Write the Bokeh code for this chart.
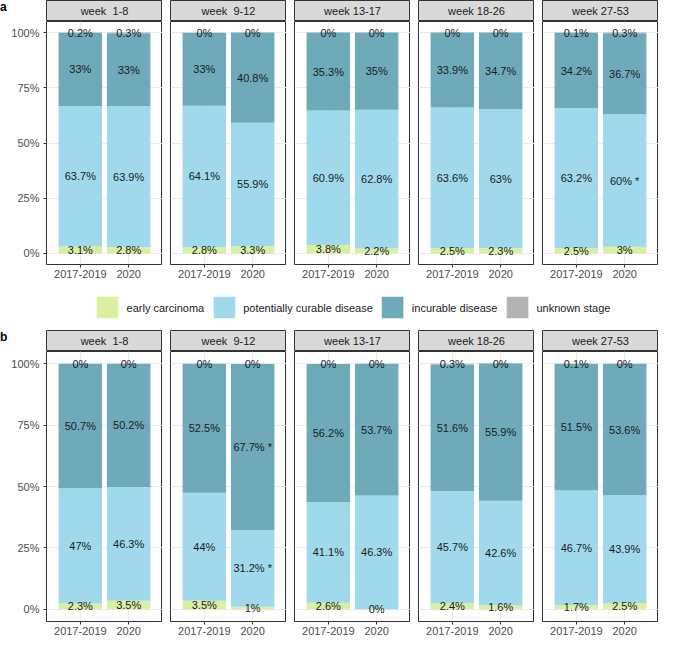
from bokeh.plotting import figure
from bokeh.layouts import row, column
from bokeh.models import (ColumnDataSource, FactorRange, Range1d, FixedTicker,
                          PrintfTickFormatter, Label, Legend, LegendItem, Div)
from bokeh.embed import file_html
from bokeh.resources import INLINE
from bokeh.core.properties import value

# ---------------- data ----------------
periods = ["2017-2019", "2020"]
weeks = ["week\u00a0 1-8", "week\u00a0 9-12", "week 13-17", "week 18-26", "week 27-53"]
categories = ["early carcinoma", "potentially curable disease", "incurable disease", "unknown stage"]
colors = ["#d9f0a3", "#a0d9eb", "#6eaaba", "#b3b3b3"]

# panel a: [week][period]
a_early = [[3.1, 2.8], [2.8, 3.3], [3.8, 2.2], [2.5, 2.3], [2.5, 3.0]]
a_curable = [[63.7, 63.9], [64.1, 55.9], [60.9, 62.8], [63.6, 63.0], [63.2, 60.0]]
a_incurable = [[33.0, 33.0], [33.0, 40.8], [35.3, 35.0], [33.9, 34.7], [34.2, 36.7]]
a_unknown = [[0.2, 0.3], [0.0, 0.0], [0.0, 0.0], [0.0, 0.0], [0.1, 0.3]]
# significance marks: (week index, period index, category index)
a_stars = [(4, 1, 1)]

# panel b
b_early = [[2.3, 3.5], [3.5, 1.0], [2.6, 0.0], [2.4, 1.6], [1.7, 2.5]]
b_curable = [[47.0, 46.3], [44.0, 31.2], [41.1, 46.3], [45.7, 42.6], [46.7, 43.9]]
b_incurable = [[50.7, 50.2], [52.5, 67.7], [56.2, 53.7], [51.6, 55.9], [51.5, 53.6]]
b_unknown = [[0.0, 0.0], [0.0, 0.0], [0.0, 0.0], [0.3, 0.0], [0.1, 0.0]]
b_stars = [(1, 1, 1), (1, 1, 2)]

y_ticks = [0, 25, 50, 75, 100]

# ---------------- style ----------------
FONT = "Liberation Sans"
FRAME_W = 116
GAP = 8
LEFT = 46
TAG_W = 12
STRIP_H = 21
KEYS = ["early", "curable", "incurable", "unknown"]


def strip_fig(title, col):
    s = figure(frame_width=FRAME_W, frame_height=STRIP_H, x_range=(0, 1), y_range=(0, 1),
               toolbar_location=None, output_backend="svg",
               x_axis_location=None, y_axis_location=None,
               min_border_left=(LEFT - TAG_W) if col == 0 else GAP, min_border_right=0,
               min_border_top=0, min_border_bottom=0)
    s.grid.visible = False
    s.background_fill_color = "#d9d9d9"
    s.outline_line_color = "#333333"
    s.outline_line_width = 1
    s.add_layout(Label(x=0.5, y=0.5, text=title, text_align="center", text_baseline="middle",
                       text_font=FONT, text_font_size="11px", text_font_style="normal",
                       text_color="#1a1a1a"))
    return s


def panel_fig(col, h, early, curable, incurable, unknown, stars):
    p = figure(frame_width=FRAME_W, frame_height=h,
               x_range=FactorRange(factors=periods, range_padding=0.2, range_padding_units="absolute"),
               y_range=Range1d(-5, 105), toolbar_location=None, output_backend="svg",
               y_axis_location="left" if col == 0 else None,
               min_border_left=LEFT if col == 0 else GAP, min_border_right=0,
               min_border_top=0, min_border_bottom=20)
    p.outline_line_color = "#333333"
    p.outline_line_width = 1
    p.background_fill_color = "white"

    vals = [early[col], curable[col], incurable[col], unknown[col]]
    data = {"period": periods}
    for k, v in zip(KEYS, vals):
        data[k] = v
    src = ColumnDataSource(data)
    p.vbar_stack(KEYS, x="period", width=0.9, fill_color=colors, line_color=None, source=src)

    # labels centred in each segment
    xs, ys, txt = [], [], []
    for j, per in enumerate(periods):
        cum = 0.0
        for c, v in enumerate(vals):
            seg = v[j]
            xs.append(per)
            ys.append(cum + seg / 2.0)
            t = f"{seg:g}%"
            if (col, j, c) in stars:
                t += " *"
            txt.append(t)
            cum += seg
    tsrc = ColumnDataSource(dict(x=xs, y=ys, text=txt))
    p.text(x="x", y="y", text="text", source=tsrc, text_align="center", text_baseline="middle",
           text_font=value(FONT), text_font_size=value("11px"), text_color="#1a1a1a")

    # grid
    p.xgrid.grid_line_color = "#ebebeb"
    p.ygrid.ticker = FixedTicker(ticks=y_ticks)
    p.ygrid.grid_line_color = "#ebebeb"
    p.ygrid.minor_grid_line_color = None

    # axes
    for ax in p.xaxis:
        ax.axis_line_color = None
        ax.major_tick_out = 3
        ax.major_tick_in = 0
        ax.major_tick_line_color = "#333333"
        ax.minor_tick_line_color = None
        ax.major_label_standoff = 2
        ax.major_label_text_font = FONT
        ax.major_label_text_font_size = "11px"
        ax.major_label_text_color = "#4d4d4d"
    if col == 0:
        for ax in p.yaxis:
            ax.ticker = FixedTicker(ticks=y_ticks)
            ax.formatter = PrintfTickFormatter(format="%d%%")
            ax.axis_line_color = None
            ax.major_tick_out = 3
            ax.major_tick_in = 0
            ax.major_tick_line_color = "#333333"
            ax.minor_tick_line_color = None
            ax.major_label_standoff = 4
            ax.major_label_text_font = FONT
            ax.major_label_text_font_size = "11px"
            ax.major_label_text_color = "#4d4d4d"
    return p


def build_block(h, early, curable, incurable, unknown, stars, tag):
    tag_div = Div(text=tag, width=TAG_W, height=STRIP_H, margin=0,
                  styles={"font-family": FONT, "font-weight": "bold", "font-size": "12px",
                          "color": "black", "line-height": "14px"})
    strips = [strip_fig(w, i) for i, w in enumerate(weeks)]
    panels = [panel_fig(i, h, early, curable, incurable, unknown, stars) for i in range(len(weeks))]
    return column(row(tag_div, *strips), row(*panels))


block_a = build_block(243, a_early, a_curable, a_incurable, a_unknown, a_stars, "a")
block_b = build_block(270, b_early, b_curable, b_incurable, b_unknown, b_stars, "b")

# legend
lf = figure(frame_width=5 * FRAME_W + 4 * GAP, frame_height=46, x_range=(0, 1), y_range=(0, 1),
            toolbar_location=None, output_backend="svg",
            x_axis_location=None, y_axis_location=None,
            min_border_left=LEFT, min_border_right=0, min_border_top=0, min_border_bottom=0)
lf.outline_line_color = None
lf.grid.visible = False
items = []
for cat, colr in zip(categories, colors):
    # zero-size proxy bar: only provides the legend key
    r = lf.vbar(x=[0], top=[0], bottom=[0], width=0, fill_color=colr, line_color=None)
    items.append(LegendItem(label=cat, renderers=[r]))
leg = Legend(items=items, orientation="horizontal", location="center",
             glyph_width=27, glyph_height=27, label_standoff=6, spacing=6,
             padding=0, margin=0, border_line_color=None, background_fill_alpha=0,
             label_text_font=FONT, label_text_font_size="11px", label_text_color="#1a1a1a")
lf.add_layout(leg)

layout = column(block_a, lf, block_b)

open("out.html", "w").write(file_html(layout, INLINE))
